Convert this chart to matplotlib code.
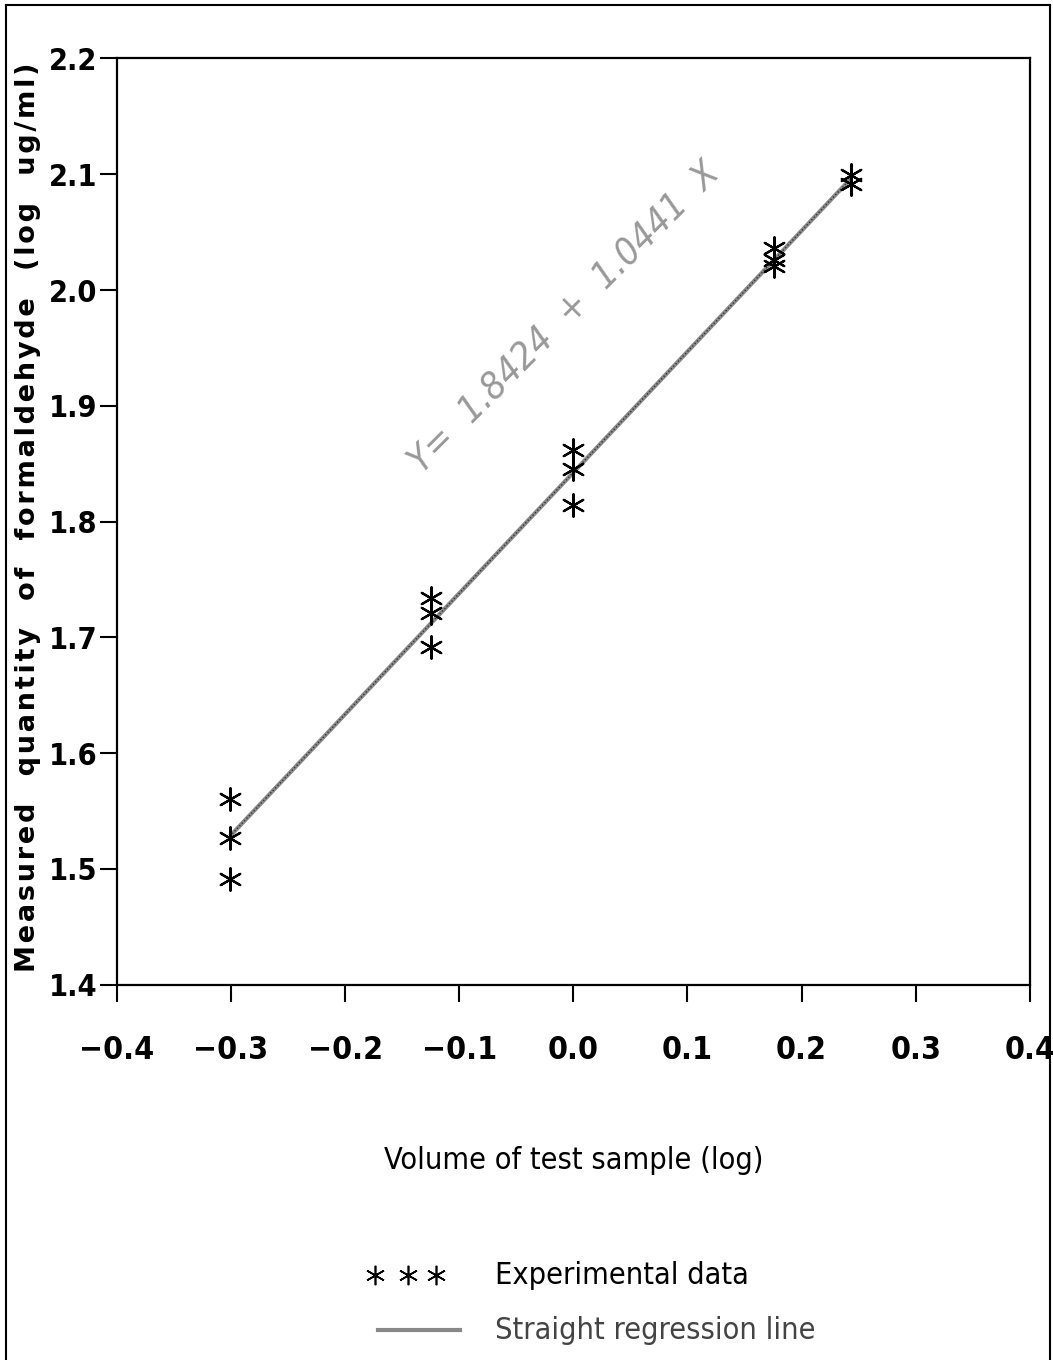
import matplotlib
matplotlib.use("Agg")
import matplotlib.pyplot as plt
from matplotlib.lines import Line2D

# Data (log volume, log measured quantity)
x_vals = [-0.301, -0.301, -0.301,
          -0.125, -0.125, -0.125,
          0.0, 0.0, 0.0,
          0.176, 0.176, 0.176,
          0.243, 0.243]
y_vals = [1.560, 1.527, 1.491,
          1.734, 1.721, 1.692,
          1.862, 1.845, 1.814,
          2.036, 2.026, 2.021,
          2.099, 2.092]
intercept = 1.8424
slope = 1.0441
line_x = [-0.301, 0.243]
x_ticks = [-0.4, -0.3, -0.2, -0.1, 0.0, 0.1, 0.2, 0.3, 0.4]
x_tick_labels = ["\u22120.4", "\u22120.3", "\u22120.2", "\u22120.1", "0.0", "0.1", "0.2", "0.3", "0.4"]
y_ticks = [1.4, 1.5, 1.6, 1.7, 1.8, 1.9, 2.0, 2.1, 2.2]
y_label = "Measured quantity of formaldehyde (log ug/ml)"

FAM = "DejaVu Sans"
STR = "condensed"

fig = plt.figure(figsize=(10.53, 13.6), dpi=100)
ax = fig.add_axes([0.111, 0.276, 0.867, 0.681])

line_y = [intercept + slope * v for v in line_x]
ax.plot(line_x, line_y, color="#8a8a8a", lw=3.0, solid_capstyle="butt", zorder=2)
ax.plot(line_x, line_y, color="#333333", lw=1.0, ls=(0, (1, 1.5)), zorder=2)
ax.scatter(x_vals, y_vals, marker=(6, 2, 0), s=260, color="black", linewidths=1.6, zorder=3)

ax.set_xlim(-0.4, 0.4)
ax.set_ylim(1.4, 2.2)
ax.set_xticks(x_ticks)
ax.set_xticklabels(x_tick_labels)
ax.set_yticks(y_ticks)
ax.set_yticklabels([f"{v:.1f}" for v in y_ticks])
for lab in ax.get_xticklabels():
    lab.set_fontfamily(FAM)
    lab.set_fontstretch(STR)
    lab.set_fontweight("bold")
    lab.set_fontsize(23)
for lab in ax.get_yticklabels():
    lab.set_fontfamily(FAM)
    lab.set_fontstretch(STR)
    lab.set_fontweight("bold")
    lab.set_fontsize(22)
ax.tick_params(axis="x", direction="out", length=12, width=1.5, pad=24)
ax.tick_params(axis="y", direction="out", length=12, width=1.5, pad=2)
for sp in ax.spines.values():
    sp.set_linewidth(1.6)

fig.text(0.545, 0.147, "Volume of test sample (log)", fontfamily=FAM, fontstretch=STR,
         fontsize=22, ha="center", va="center")
spaced = "\u200a".join(y_label).replace("\u200a \u200a", "\u2002\u2002")
fig.text(0.027, 0.62, spaced,
         rotation=90, ha="center", va="center", fontsize=19.5, fontweight="bold",
         fontfamily=FAM)

ax.text(-0.007, 1.976, "Y=  1.8424  +  1.0441  X", rotation=45, color="#999999",
        fontsize=27, fontfamily=FAM, fontstretch=STR, style="italic",
        ha="center", va="center", rotation_mode="anchor")

# Legend
fig.add_artist(Line2D([0.356, 0.387, 0.414], [0.0625, 0.0625, 0.0625], ls="none",
                      marker=(6, 2, 0), markersize=14, markeredgewidth=1.2,
                      color="black", transform=fig.transFigure))
fig.text(0.47, 0.0625, "Experimental data", fontsize=22, fontfamily=FAM, fontstretch=STR,
         ha="left", va="center")
fig.add_artist(Line2D([0.359, 0.437], [0.022, 0.022], color="#888888", lw=3,
                      transform=fig.transFigure))
fig.text(0.47, 0.022, "Straight regression line", fontsize=22, fontfamily=FAM, fontstretch=STR,
         ha="left", va="center", color="#444444")

# Outer frame
fig.add_artist(Line2D([0.006, 0.006], [0.0, 0.996], color="black", lw=1.5, transform=fig.transFigure))
fig.add_artist(Line2D([0.006, 0.997], [0.996, 0.996], color="black", lw=1.5, transform=fig.transFigure))
fig.add_artist(Line2D([0.997, 0.997], [0.0, 0.996], color="black", lw=1.5, transform=fig.transFigure))

fig.savefig("out.png", dpi=100)
